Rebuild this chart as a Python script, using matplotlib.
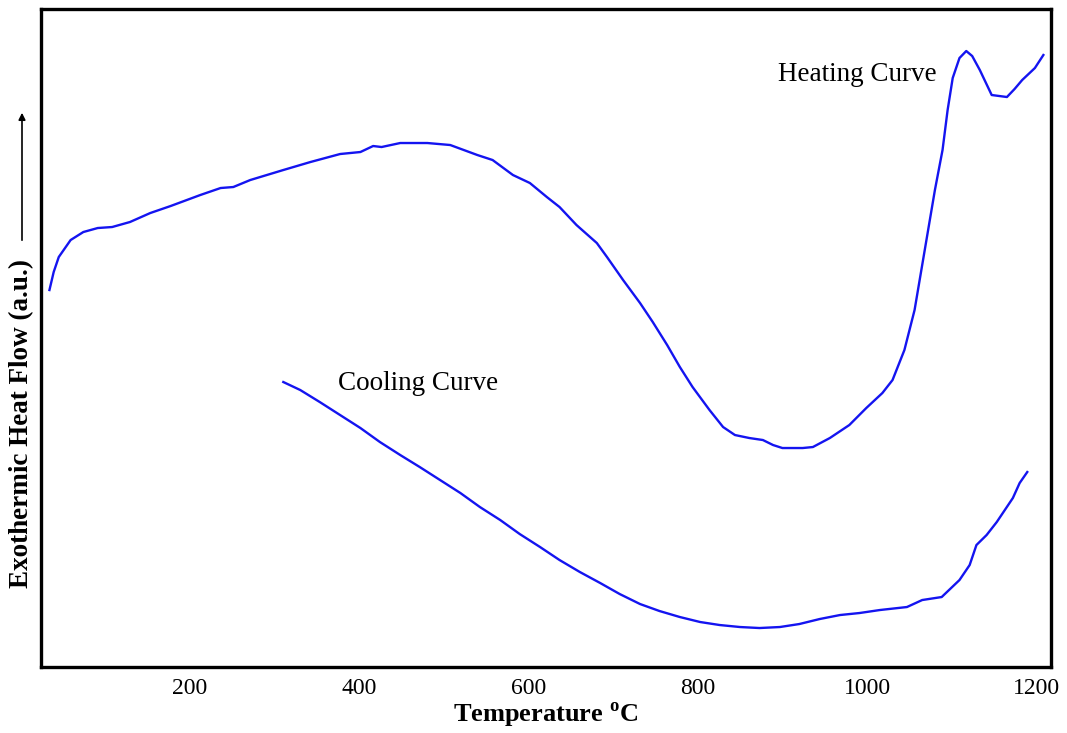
import numpy as np
import matplotlib.pyplot as plt
from matplotlib.patches import FancyArrowPatch

plt.rcParams['font.family'] = ['Liberation Serif', 'DejaVu Serif']

# DTA trace on heating (temperature in °C, heat flow in a.u.)
heat_T = [35, 40, 46, 60, 75, 92, 109, 130, 154, 178, 213, 237, 252, 272, 311,
          343, 378, 402, 417, 427, 449, 481, 508, 540, 558, 582, 602, 622, 637,
          657, 681, 693, 712, 732, 747, 764, 779, 794, 814, 830, 844, 861, 877,
          889, 900, 924, 936, 956, 979, 999, 1018, 1030, 1044, 1056, 1068, 1080,
          1089, 1095, 1101, 1109, 1117, 1124, 1133, 1147, 1165, 1174, 1183,
          1198, 1208]
heat_H = [377, 395, 410, 427, 435, 439, 440, 445, 454, 461, 472, 479, 480, 487,
          497, 505, 513, 515, 521, 520, 524, 524, 522, 512, 507, 492, 484, 470,
          460, 442, 424, 410, 387, 364, 345, 322, 300, 280, 257, 240, 232, 229,
          227, 222, 219, 219, 220, 229, 242, 259, 274, 287, 317, 357, 417, 477,
          517, 557, 589, 609, 616, 611, 597, 572, 570, 578, 587, 599, 612]

# DTA trace on cooling
cool_T = [311, 331, 354, 378, 402, 425, 449, 472, 496, 520, 543, 567, 590, 614,
          637, 661, 685, 708, 732, 755, 779, 803, 826, 850, 873, 897, 920, 944,
          968, 991, 1015, 1047, 1065, 1088, 1109, 1121, 1129, 1141, 1153, 1172,
          1180, 1189]
cool_H = [285, 277, 265, 252, 239, 225, 212, 200, 187, 174, 160, 147, 133, 120,
          107, 95, 84, 73, 63, 56, 50, 45, 42, 40, 39, 40, 43, 48, 52, 54, 57,
          60, 67, 70, 87, 102, 122, 132, 145, 169, 184, 195]

xticks = [200, 400, 600, 800, 1000, 1200]

fig = plt.figure(figsize=(10.67, 7.33), dpi=100)
ax = fig.add_axes([0.0384, 0.090, 0.9466, 0.8977])

ax.plot(heat_T, heat_H, color='#1414f0', lw=1.7)
ax.plot(cool_T, cool_H, color='#1414f0', lw=1.7)

ax.set_xlim(25, 1217)
ax.set_ylim(0, 658)
ax.set_xticks(xticks)
ax.set_xticklabels([str(t) for t in xticks], fontsize=17)
ax.tick_params(axis='x', length=0, pad=8)
ax.set_yticks([])
for s in ax.spines.values():
    s.set_linewidth(2.4)
    s.set_color('black')

ax.text(989, 593, 'Heating Curve', fontsize=19.5, ha='center', va='center')
ax.text(470, 284, 'Cooling Curve', fontsize=19.5, ha='center', va='center')

ax.set_xlabel('Temperature $^{\\mathregular{o}}$C', fontsize=19,
              fontweight='bold', labelpad=1)

# y label with an upward arrow above it
fig.text(22 / 1067, 1 - 423 / 733, 'Exothermic Heat Flow (a.u.)', rotation=90,
         fontsize=19.5, fontweight='bold', ha='center', va='center')
fig.add_artist(FancyArrowPatch(
    (22 / 1067, 1 - 243 / 733), (22 / 1067, 1 - 110 / 733),
    transform=fig.transFigure, arrowstyle='-|>', mutation_scale=10,
    color='black', lw=1.2))

fig.savefig('out.png', dpi=100)
